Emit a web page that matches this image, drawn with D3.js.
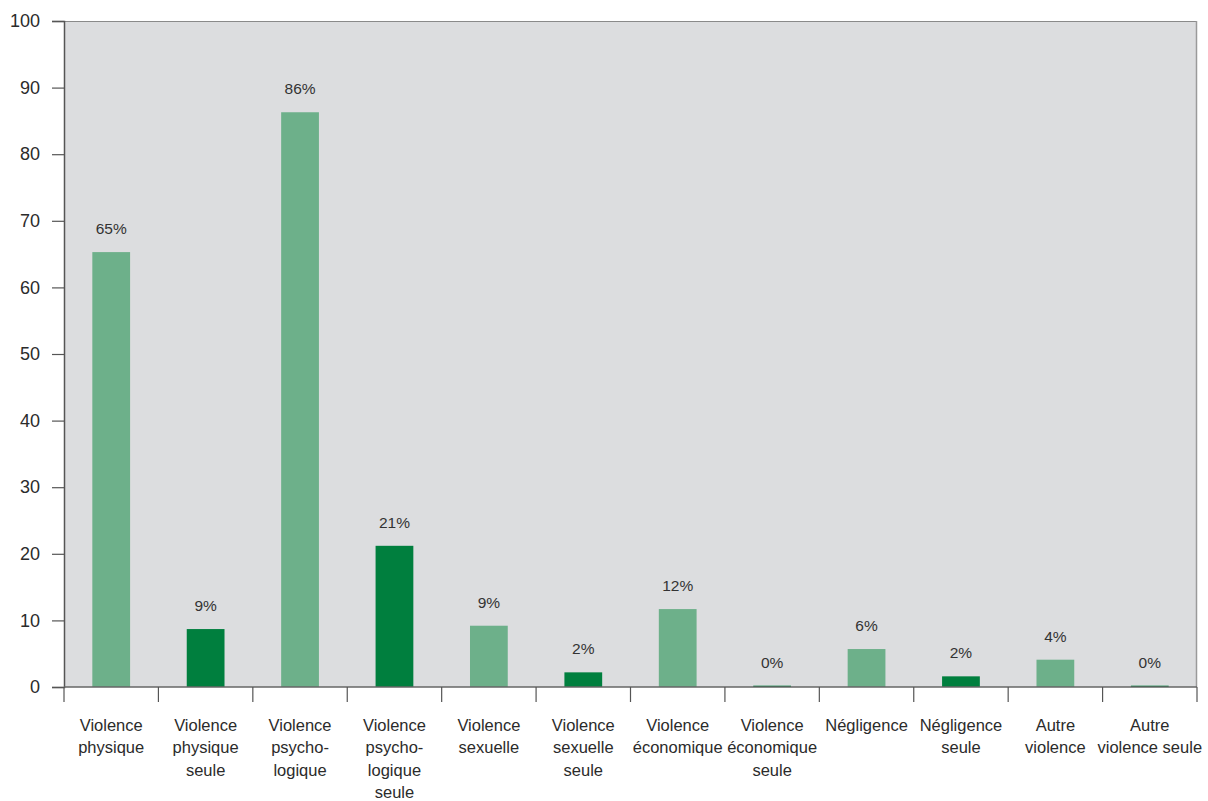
<!DOCTYPE html>
<html>
<head>
<meta charset="utf-8">
<script src="https://cdn.jsdelivr.net/npm/d3@7"></script>
<style>
  html, body { margin: 0; padding: 0; background: #ffffff; }
  svg { display: block; font-family: "Liberation Sans", Arial, sans-serif; }
</style>
</head>
<body>
<svg id="chart" width="1208" height="801"></svg>
<script>
// Categories (each label split into its printed lines)
const categories = [
  ["Violence", "physique"],
  ["Violence", "physique", "seule"],
  ["Violence", "psycho-", "logique"],
  ["Violence", "psycho-", "logique", "seule"],
  ["Violence", "sexuelle"],
  ["Violence", "sexuelle", "seule"],
  ["Violence", "économique"],
  ["Violence", "économique", "seule"],
  ["Négligence"],
  ["Négligence", "seule"],
  ["Autre", "violence"],
  ["Autre", "violence seule"]
];
// Percentages of cases
const values = [65.3, 8.7, 86.3, 21.2, 9.2, 2.2, 11.7, 0.2, 5.7, 1.6, 4.1, 0.2];
// Printed value labels
const valueLabels = ["65%", "9%", "86%", "21%", "9%", "2%", "12%", "0%", "6%", "2%", "4%", "0%"];
// "alone" categories are drawn in the darker green
const isAlone = [false, true, false, true, false, true, false, true, false, true, false, true];
const yTicks = [0, 10, 20, 30, 40, 50, 60, 70, 80, 90, 100];

const margin = { left: 64, right: 11, top: 21, bottom: 114 };
const W = 1208, H = 801;
const svg = d3.select("#chart");

const x = d3.scaleBand()
  .domain(d3.range(categories.length))
  .range([margin.left, W - margin.right])
  .paddingInner(0.6)
  .paddingOuter(0.3);

const y = d3.scaleLinear().domain([0, 100]).range([H - margin.bottom, margin.top]);

const x0 = margin.left, x1 = W - margin.right;
const y0 = y(0), y1 = y(100);

// Plot background
svg.append("rect")
  .attr("x", x0).attr("y", y1)
  .attr("width", x1 - x0).attr("height", y0 - y1)
  .attr("fill", "#dcdddf");

// Top and right frame
svg.append("line").attr("x1", x0).attr("x2", x1).attr("y1", y1 + 0.5).attr("y2", y1 + 0.5)
  .attr("stroke", "#8a8a8a").attr("stroke-width", 1);
svg.append("line").attr("x1", x1 - 0.5).attr("x2", x1 - 0.5).attr("y1", y1).attr("y2", y0)
  .attr("stroke", "#9a9a9a").attr("stroke-width", 1.5);

// Bars
svg.append("g").selectAll("rect")
  .data(values)
  .join("rect")
  .attr("x", (d, i) => x(i))
  .attr("width", x.bandwidth())
  .attr("y", d => y(d))
  .attr("height", d => y0 - y(d))
  .attr("fill", (d, i) => isAlone[i] ? "#007f3e" : "#6db08a");

// Value labels
svg.append("g").selectAll("text")
  .data(values)
  .join("text")
  .attr("x", (d, i) => x(i) + x.bandwidth() / 2)
  .attr("y", d => y(d) - 18)
  .attr("text-anchor", "middle")
  .attr("font-size", 15.5)
  .attr("fill", "#333")
  .text((d, i) => valueLabels[i]);

// Y axis
const yAxis = d3.axisLeft(y).tickValues(yTicks).tickSize(12).tickPadding(12);
const gy = svg.append("g").attr("transform", `translate(${x0},0)`).call(yAxis);
gy.select(".domain").attr("stroke", "#555").attr("stroke-width", 1.5);
gy.selectAll(".tick line").attr("stroke", "#555").attr("stroke-width", 1.2);
gy.selectAll(".tick text").attr("font-size", 18).attr("fill", "#2b2b2b")
  .attr("font-family", "Liberation Sans, Arial, sans-serif");

// X axis: baseline plus ticks at category boundaries
const gx = svg.append("g");
gx.append("line").attr("x1", x0).attr("x2", x1).attr("y1", y0).attr("y2", y0)
  .attr("stroke", "#666").attr("stroke-width", 1.5);
const step = x.step();
const boundaries = d3.range(categories.length + 1).map(i => x(0) - x.paddingOuter() * step + i * step);
gx.selectAll("line.tick")
  .data(boundaries)
  .join("line")
  .attr("class", "tick")
  .attr("x1", d => d).attr("x2", d => d)
  .attr("y1", y0).attr("y2", y0 + 15)
  .attr("stroke", "#555").attr("stroke-width", 1.2);

// Category labels
const cat = gx.selectAll("text.cat")
  .data(categories)
  .join("text")
  .attr("class", "cat")
  .attr("text-anchor", "middle")
  .attr("font-size", 16.5)
  .attr("fill", "#2b2b2b");
cat.selectAll("tspan")
  .data((d, i) => d.map(line => ({ line, i })))
  .join("tspan")
  .attr("x", d => x(d.i) + x.bandwidth() / 2)
  .attr("y", (d, j) => y0 + 44 + j * 22.3)
  .text(d => d.line);
</script>
</body>
</html>
